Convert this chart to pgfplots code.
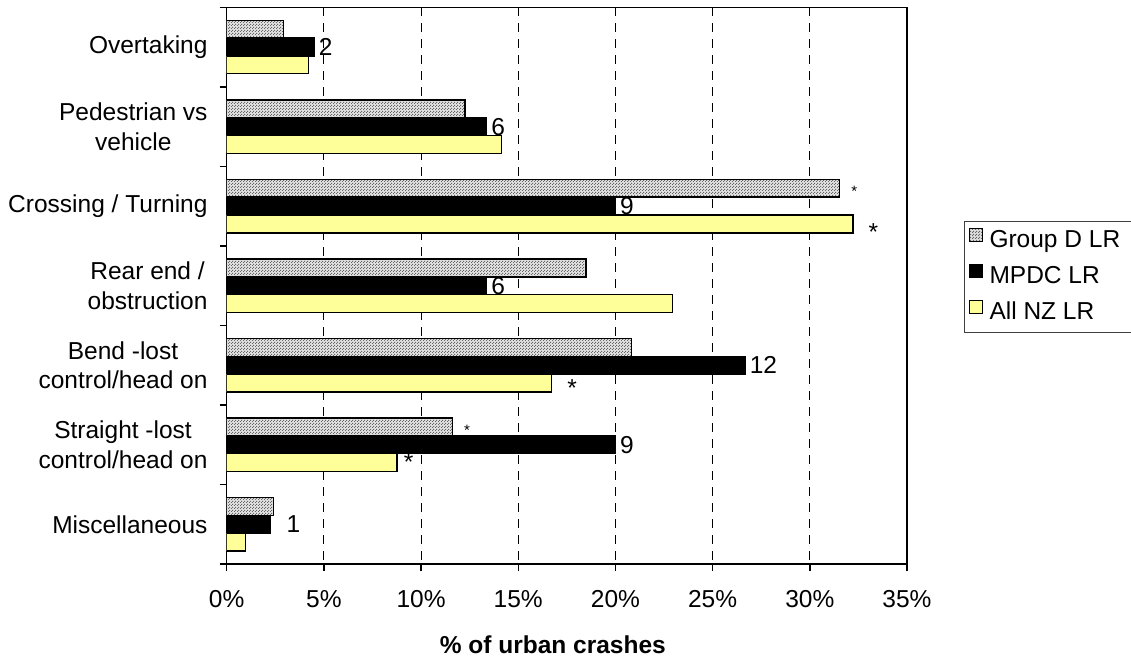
\documentclass[border=0pt]{standalone}
\usepackage{fontspec}
\setmainfont{Liberation Sans}
\usepackage{pgfplots}
\pgfplotsset{compat=1.18}
\usetikzlibrary{patterns}

\pgfdeclarepatternformonly{finedots}{\pgfqpoint{0bp}{0bp}}{\pgfqpoint{3bp}{3bp}}{\pgfqpoint{3bp}{3bp}}{%
  \pgfpathrectangle{\pgfqpoint{0bp}{0bp}}{\pgfqpoint{1.3bp}{1.3bp}}%
  \pgfpathrectangle{\pgfqpoint{1.5bp}{1.5bp}}{\pgfqpoint{1.3bp}{1.3bp}}%
  \pgfusepath{fill}}

\protected\def\nn{}
\protected\def\sa{{\fontsize{15bp}{15bp}\selectfont *}}
\protected\def\ba{*}
\protected\def\bc{\raisebox{-3.5bp}{*}}
\protected\def\bs{\hspace*{-9bp}\raisebox{6bp}{*}}
\protected\def\one{\hspace*{12bp}1}

\definecolor{nzyellow}{HTML}{FFFF99}

\begin{document}
\fontsize{24.5bp}{29.4bp}\selectfont
\begin{tikzpicture}
\begin{axis}[
  scale only axis, width=680.3bp, height=556.7bp,
  xbar, bar width=0.2236,
  xmin=0, xmax=35, ymin=-0.5, ymax=6.5, y dir=reverse,
  axis line style={black, line width=1.5bp},
  tick pos=left,
  xtick={0,5,...,35},
  xticklabel={\pgfmathprintnumber{\tick}\%},
  xticklabel style={yshift=-11bp},
  /pgf/number format/assume math mode=true,
  ytick={0,...,6},
  yticklabels={Overtaking,{Pedestrian vs\\vehicle},Crossing / Turning,{Rear end /\\obstruction},{Bend -lost\\control/head on},{Straight -lost\\control/head on},Miscellaneous},
  yticklabel style={align=center, inner sep=0bp, xshift=-12bp},
  minor ytick={-0.5,0.5,...,6.5},
  tick align=outside,
  major tick length=7bp, minor tick length=7bp,
  major y tick style={draw=none},
  minor y tick style={draw=black, line width=1.5bp},
  major x tick style={draw=black, line width=1.5bp},
  xmajorgrids,
  major x grid style={black, line width=0.9bp, dash pattern=on 9bp off 7bp},
  xlabel={\textbf{\% of urban crashes}},
  xlabel style={at={(axis description cs:0.5,0)}, anchor=center, xshift=-14bp, yshift=-81bp},
  legend cell align=left,
  legend style={at={(1.0838,0.617)}, anchor=north west, draw=black!75, line width=1bp,
    fill=white, inner xsep=4bp, inner ysep=6.5bp, row sep=9.5bp,
    nodes={inner sep=2bp, text height=17.5bp, text depth=5bp},
    /tikz/every odd column/.append style={column sep=5bp}},
  legend image code/.code={\draw[#1, line width=1bp] (0bp,-1bp) rectangle (13bp,12bp);},
  point meta=explicit symbolic,
  nodes near coords={\pgfplotspointmeta},
]
\coordinate (O) at (axis description cs:0,0);
% Group D LR
\addplot[draw=black, line width=1.5bp, fill=black!12,
  postaction={pattern=finedots, pattern color=black!60},
  bar shift=-0.2236,
  every node near coord/.style={anchor=base west, inner sep=0bp, xshift=11bp, yshift=17.8bp-8.4bp}]
  coordinates {(2.91,0)[\nn] (12.27,1)[\nn] (31.54,2)[\sa] (18.49,3)[\nn] (20.83,4)[\nn] (11.61,5)[\sa] (2.41,6)[\nn]};
\addlegendentry{Group D LR\hspace*{20bp}}
% MPDC LR
\addplot[draw=black, line width=1.5bp, fill=black, bar shift=0,
  every node near coord/.style={anchor=base west, inner sep=0bp, xshift=4bp, yshift=-8.6bp}]
  coordinates {(4.50,0)[2] (13.37,1)[6] (20.0,2)[9] (13.37,3)[6] (26.67,4)[12] (20.0,5)[9] (2.22,6)[\one]};
\addlegendentry{MPDC LR}
% All NZ LR
\addplot[draw=black, line width=1.5bp, fill=nzyellow, bar shift=0.2236,
  every node near coord/.style={anchor=base west, inner sep=0bp, xshift=15bp, yshift=-17.8bp-13.5bp}]
  coordinates {(4.20,0)[\nn] (14.15,1)[\nn] (32.22,2)[\bc] (22.94,3)[\nn] (16.72,4)[\ba] (8.76,5)[\bs] (0.96,6)[\nn]};
\addlegendentry{All NZ LR}
\end{axis}
\pgfresetboundingbox
\path[use as bounding box] (O) ++(-226.7bp,-95bp) rectangle ++(1131bp,659bp);
\end{tikzpicture}
\end{document}
